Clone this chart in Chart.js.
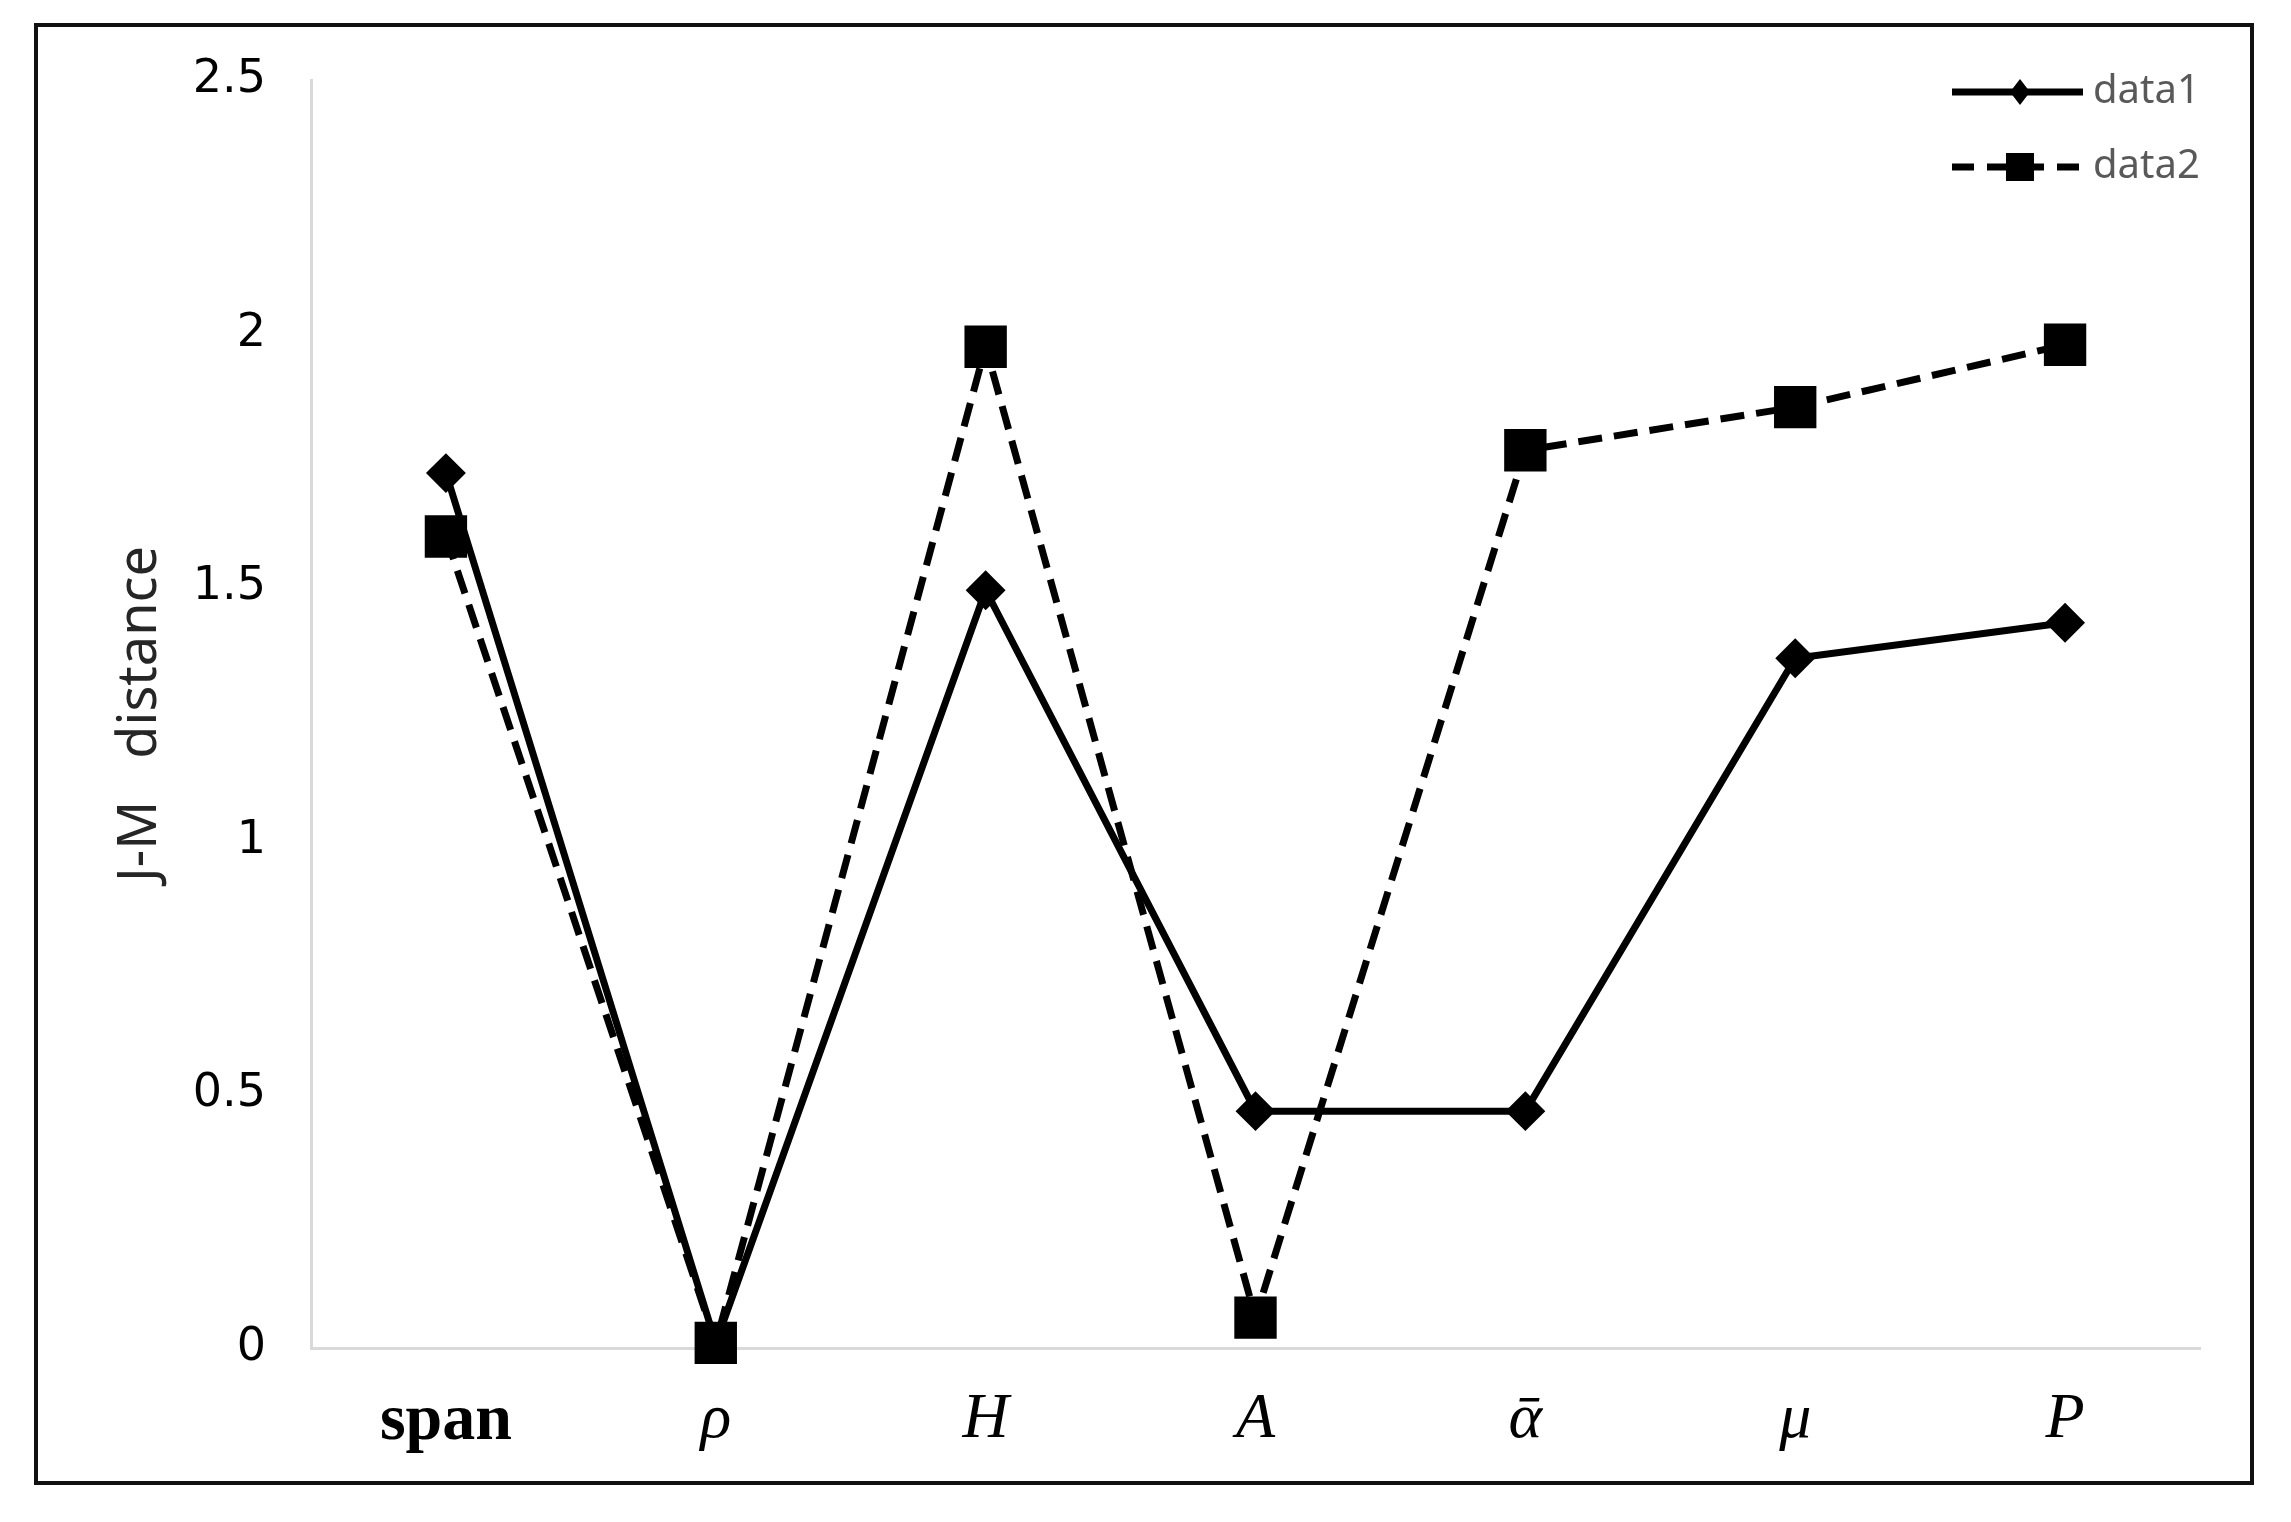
<!DOCTYPE html>
<html>
<head>
<meta charset="utf-8">
<title>J-M distance</title>
<script src="https://cdn.jsdelivr.net/npm/chart.js@4/dist/chart.umd.min.js"></script>
<style>
    html, body { margin: 0; padding: 0; background: #ffffff; }
    #wrap { position: relative; width: 2291px; height: 1522px; }
</style>
</head>
<body>
<div id="wrap"><canvas id="jmChart" width="2291" height="1522"></canvas></div>
<script>
// chart values
const categories = ['span', 'ρ', 'H', 'A', 'ᾱ', 'μ', 'P'];
const data1 = [1.725, 0.01, 1.494, 0.467, 0.467, 1.36, 1.43];
const data2 = [1.60, 0.01, 1.974, 0.06, 1.77, 1.855, 1.978];
const seriesNames = ['data1', 'data2'];
const yMin = 0;
const yMax = 2.5;
const yStep = 0.5;

let jmChart;

// frame around the whole figure
const framePlugin = {
    id: 'frame',
    beforeDraw(chart) {
        const ctx = chart.ctx;
        ctx.save();
        ctx.fillStyle = '#ffffff';
        ctx.fillRect(0, 0, chart.width, chart.height);
        ctx.strokeStyle = '#111111';
        ctx.lineWidth = 4;
        ctx.strokeRect(36, 25, 2216, 1458);
        ctx.restore();
    }
};

// legend drawn inside the plot, top right corner
const insideLegend = {
    id: 'insideLegend',
    afterDraw(chart) {
        const ctx = chart.ctx;
        const area = chart.chartArea;
        const x0 = area.right - 248;
        const rows = [area.top + 12, area.top + 87];
        ctx.save();
        chart.data.datasets.forEach((ds, i) => {
            const y = rows[i];
            ctx.strokeStyle = '#000000';
            ctx.lineWidth = 7;
            ctx.setLineDash(i === 1 ? [22, 13] : []);
            ctx.beginPath();
            ctx.moveTo(x0, y);
            ctx.lineTo(x0 + 131, y);
            ctx.stroke();
            ctx.setLineDash([]);
            ctx.fillStyle = '#000000';
            const cx = x0 + 68;
            ctx.beginPath();
            if (i === 0) {
                ctx.moveTo(cx, y - 13);
                ctx.lineTo(cx + 10, y);
                ctx.lineTo(cx, y + 13);
                ctx.lineTo(cx - 10, y);
                ctx.closePath();
            } else {
                ctx.rect(cx - 14, y - 14, 28, 28);
            }
            ctx.fill();
            ctx.fillStyle = '#595959';
            ctx.font = '40px "Noto Sans"';
            ctx.textAlign = 'left';
            ctx.textBaseline = 'middle';
            ctx.fillText(ds.label, x0 + 141, y);
        });
        ctx.restore();
    }
};

window.onload = function () {
    const ctx = document.getElementById('jmChart').getContext('2d');

    jmChart = new Chart(ctx, {
        type: 'line',
        data: {
            labels: categories,
            datasets: [{
                label: seriesNames[0],
                data: data1,
                borderColor: '#000000',
                backgroundColor: '#000000',
                borderWidth: 7,
                pointStyle: 'rectRot',
                pointRadius: 15,
                pointHoverRadius: 15,
                tension: 0,
                clip: false
            }, {
                label: seriesNames[1],
                data: data2,
                borderColor: '#000000',
                backgroundColor: '#000000',
                borderWidth: 7,
                borderDash: [24, 12],
                pointStyle: 'rect',
                pointRadius: 25,
                pointHoverRadius: 25,
                tension: 0,
                clip: false
            }]
        },
        options: {
            responsive: false,
            animation: false,
            events: [],
            layout: {
                padding: { top: 80, right: 91, bottom: 0, left: 0 }
            },
            plugins: {
                legend: { display: false },
                tooltip: { enabled: false }
            },
            scales: {
                x: {
                    offset: true,
                    grid: { display: false, drawTicks: false },
                    border: { display: true, color: '#d9d9d9', width: 3 },
                    ticks: {
                        color: '#000000',
                        padding: 34,
                        font: function (c) {
                            if (c.index === 0) {
                                return { family: '"Liberation Serif"', size: 66, weight: 'bold' };
                            }
                            return { family: '"Liberation Serif"', size: 64, style: 'italic' };
                        }
                    },
                    afterFit: function (scale) {
                        scale.height = 174;
                    }
                },
                y: {
                    min: yMin,
                    max: yMax,
                    grid: { display: false, drawTicks: false },
                    border: { display: true, color: '#d9d9d9', width: 3 },
                    ticks: {
                        stepSize: yStep,
                        color: '#000000',
                        padding: 45,
                        font: { family: '"DejaVu Sans"', size: 46 },
                        callback: function (value) {
                            return String(Number(value.toFixed(1)));
                        }
                    },
                    title: {
                        display: true,
                        text: 'J-M   distance',
                        color: '#262626',
                        font: { family: '"Noto Sans"', size: 54 },
                        padding: { top: 108, bottom: 0 }
                    },
                    afterFit: function (scale) {
                        scale.width = 311;
                    }
                }
            }
        },
        plugins: [framePlugin, insideLegend]
    });
};
</script>
</body>
</html>
